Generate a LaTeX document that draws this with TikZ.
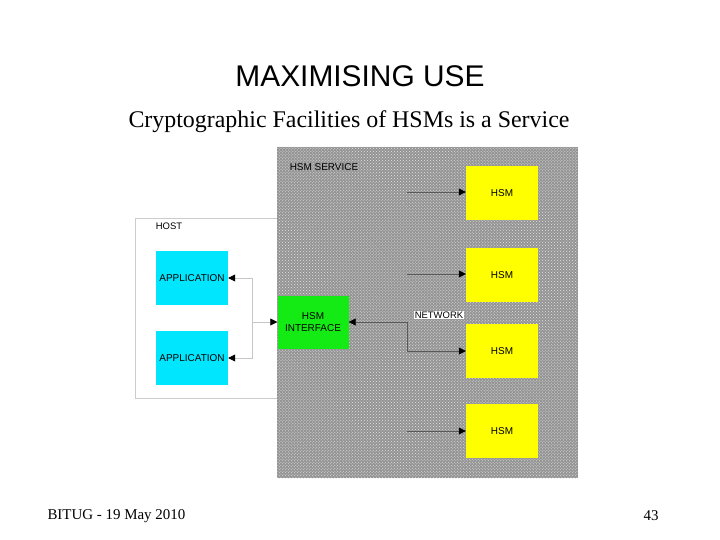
\documentclass[tikz,border=0pt]{standalone}
\usepackage{fontspec}
\setmainfont{Liberation Serif}
\setsansfont{Liberation Sans}
\usetikzlibrary{arrows.meta,patterns}

\definecolor{appcyan}{RGB}{0,230,255}
\definecolor{ifgreen}{RGB}{20,235,20}
\definecolor{hsmyellow}{RGB}{255,255,0}

\tikzset{
  box/.style={inner sep=0pt, align=center, font=\sffamily\fontsize{10}{11.5}\selectfont},
  appbox/.style={box, fill=appcyan, minimum width=72bp, minimum height=54bp},
  hsmbox/.style={box, fill=hsmyellow, minimum width=72bp, minimum height=54bp},
  ifbox/.style={box, fill=ifgreen, minimum width=71bp, minimum height=53bp},
  hostline/.style={gray!45, line width=0.7bp, -{Triangle[length=7bp,width=7bp,black]}},
  netline/.style={gray!70!black, line width=0.4bp, -{Triangle[length=7bp,width=7bp,black]}},
}

\begin{document}
\begin{tikzpicture}[x=1bp,y=-1bp]
\useasboundingbox[fill=white] (0,0) rectangle (720,540);

\node (title) at (360,76) {\sffamily\fontsize{30}{34}\selectfont MAXIMISING USE};
\node (subtitle) at (349,122) {\fontsize{24}{28}\selectfont Cryptographic Facilities of HSMs is a Service};

% host and service areas
\draw[gray!40, line width=0.7bp] (135,218) rectangle (277,398);
\path[fill=black!42, postaction={pattern=crosshatch dots, pattern color=gray!20}] (277,147) rectangle (578,478);

\node[box, font=\sffamily\fontsize{9.5}{11}\selectfont] (host) at (169,226) {HOST};
\node[box] (service) at (324,167) {HSM SERVICE};

\node[appbox] (app1) at (192,278) {APPLICATION};
\node[appbox] (app2) at (192,358) {APPLICATION};

\node[ifbox] (iface) at (313,322) {HSM\\INTERFACE};

\node[hsmbox] (hsm1) at (502,193) {HSM};
\node[hsmbox] (hsm2) at (502,275) {HSM};
\node[hsmbox] (hsm3) at (502,351) {HSM};
\node[hsmbox] (hsm4) at (502,431) {HSM};

\coordinate (bus) at (252,322);
\draw[hostline] (bus) |- (app1.east);
\draw[hostline] (bus) |- (app2.east);
\draw[hostline] (bus) -- (iface.west);

\coordinate (net) at (407,322);
\coordinate (n1) at (407,192);
\coordinate (n2) at (407,274);
\coordinate (n3) at (407,351);
\coordinate (n4) at (407,431);
\draw[netline] (net) -- (iface.east);
\draw[netline, -] (net) -- (n3);
\draw[netline] (n1) -- (hsm1.west |- n1);
\draw[netline] (n2) -- (hsm2.west |- n2);
\draw[netline] (n3) -- (hsm3.west |- n3);
\draw[netline] (n4) -- (hsm4.west |- n4);

\node[box, fill=white, inner sep=1bp, font=\sffamily\fontsize{9.5}{11}\selectfont] (network) at (439,315) {NETWORK};

\node[anchor=west] (footer) at (44,516) {\fontsize{15}{17}\selectfont BITUG - 19 May 2010};
\node (page) at (651,516) {\fontsize{15}{17}\selectfont 43};
\end{tikzpicture}
\end{document}
